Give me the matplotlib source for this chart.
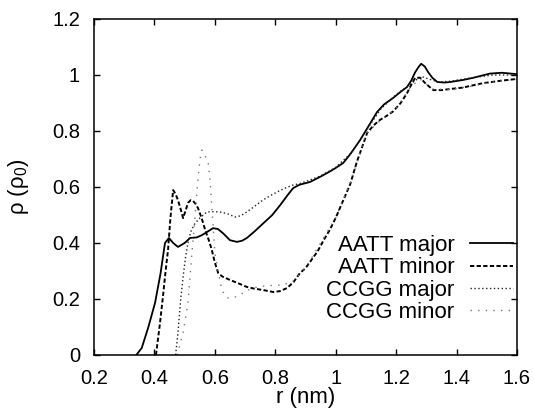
import matplotlib
matplotlib.use('Agg')
import matplotlib.pyplot as plt

plt.rcParams['font.family'] = ['Liberation Sans', 'DejaVu Sans']
plt.rcParams['mathtext.fontset'] = 'custom'
plt.rcParams['mathtext.rm'] = 'Liberation Sans'
plt.rcParams['mathtext.it'] = 'Liberation Sans'

# AATT major (solid)
aatt_major_r = [0.34, 0.358, 0.38, 0.402, 0.42, 0.435, 0.448, 0.462, 0.478, 0.50,
                0.518, 0.54, 0.557, 0.575, 0.594, 0.61, 0.627, 0.65, 0.673, 0.69,
                0.706, 0.73, 0.76, 0.79, 0.816, 0.84, 0.859, 0.88, 0.915, 0.948,
                0.98, 1.0, 1.025, 1.05, 1.081, 1.11, 1.137, 1.16, 1.19, 1.215,
                1.236, 1.25, 1.263, 1.275, 1.283, 1.295, 1.306, 1.32, 1.336, 1.36,
                1.379, 1.42, 1.455, 1.51, 1.55, 1.6]
aatt_major_rho = [0.0, 0.025, 0.10, 0.186, 0.29, 0.40, 0.418, 0.40, 0.386, 0.40,
                  0.418, 0.42, 0.428, 0.44, 0.453, 0.45, 0.435, 0.41, 0.404, 0.408,
                  0.418, 0.44, 0.47, 0.50, 0.535, 0.57, 0.596, 0.608, 0.618, 0.636,
                  0.655, 0.668, 0.686, 0.72, 0.768, 0.82, 0.868, 0.895, 0.918, 0.94,
                  0.957, 0.98, 1.01, 1.03, 1.04, 1.03, 1.01, 0.99, 0.975, 0.973,
                  0.975, 0.982, 0.99, 1.005, 1.008, 1.003]

# AATT minor (dashed)
aatt_minor_r = [0.405, 0.408, 0.418, 0.428, 0.437, 0.445, 0.453, 0.462, 0.47, 0.478,
                0.487, 0.495, 0.503, 0.511, 0.52, 0.528, 0.536, 0.544, 0.556, 0.568,
                0.58, 0.59, 0.60, 0.611, 0.625, 0.65, 0.68, 0.706, 0.73, 0.76,
                0.793, 0.815, 0.839, 0.86, 0.882, 0.9, 0.92, 0.94, 0.96, 0.98,
                1.0, 1.02, 1.048, 1.07, 1.104, 1.125, 1.147, 1.17, 1.19, 1.215,
                1.236, 1.25, 1.263, 1.28, 1.296, 1.31, 1.323, 1.35, 1.379, 1.42,
                1.488, 1.55, 1.6]
aatt_minor_rho = [0.0, 0.025, 0.11, 0.207, 0.30, 0.375, 0.49, 0.589, 0.575, 0.553,
                  0.52, 0.489, 0.515, 0.543, 0.553, 0.55, 0.54, 0.525, 0.49, 0.446,
                  0.41, 0.375, 0.33, 0.293, 0.28, 0.268, 0.255, 0.243, 0.237, 0.232,
                  0.225, 0.228, 0.239, 0.26, 0.293, 0.31, 0.34, 0.37, 0.41, 0.446,
                  0.49, 0.54, 0.61, 0.69, 0.793, 0.82, 0.84, 0.855, 0.87, 0.90,
                  0.935, 0.965, 0.99, 0.99, 0.971, 0.958, 0.946, 0.946, 0.95, 0.955,
                  0.971, 0.98, 0.986]

# CCGG major (dotted)
ccgg_major_r = [0.47, 0.478, 0.487, 0.495, 0.503, 0.511, 0.52, 0.534, 0.551, 0.574,
                0.6, 0.62, 0.64, 0.667, 0.685, 0.706, 0.73, 0.76, 0.785, 0.806,
                0.83, 0.859, 0.88, 0.915, 0.95, 1.0, 1.05, 1.1, 1.15, 1.2,
                1.25, 1.283, 1.31, 1.34, 1.38, 1.45, 1.52, 1.6]
ccgg_major_rho = [0.0, 0.08, 0.2, 0.28, 0.35, 0.40, 0.44, 0.47, 0.49, 0.511,
                  0.512, 0.51, 0.505, 0.493, 0.497, 0.511, 0.53, 0.554, 0.57, 0.582,
                  0.595, 0.607, 0.612, 0.625, 0.64, 0.67, 0.72, 0.80, 0.88, 0.93,
                  0.97, 0.995, 0.985, 0.975, 0.978, 0.99, 1.0, 1.0]

# CCGG minor (sparse dots)
ccgg_minor_r = [0.475, 0.495, 0.511, 0.524, 0.532, 0.538, 0.545, 0.551, 0.557, 0.565,
                0.578, 0.584, 0.59, 0.6, 0.611, 0.623, 0.64, 0.66, 0.683, 0.70,
                0.74, 0.78, 0.826, 0.86, 0.9, 0.95, 1.0, 1.05, 1.1, 1.15,
                1.2, 1.25, 1.28, 1.32, 1.38, 1.45, 1.52, 1.6]
ccgg_minor_rho = [0.0, 0.08, 0.186, 0.364, 0.46, 0.55, 0.64, 0.70, 0.732, 0.72,
                  0.685, 0.625, 0.53, 0.364, 0.30, 0.232, 0.204, 0.204, 0.214, 0.228,
                  0.243, 0.248, 0.25, 0.265, 0.31, 0.40, 0.49, 0.62, 0.79, 0.84,
                  0.88, 0.96, 0.985, 0.95, 0.948, 0.96, 0.975, 0.985]

labels = ['AATT major', 'AATT minor', 'CCGG major', 'CCGG minor']

fig = plt.figure(figsize=(5.34, 4.08), dpi=100)
ax = fig.add_axes([94 / 534, 1 - 355 / 408, 423 / 534, 336 / 408])

ax.plot(aatt_major_r, aatt_major_rho, color='black', lw=1.3, label=labels[0])
ax.plot(aatt_minor_r, aatt_minor_rho, color='black', lw=1.4,
        dashes=(2.2, 1.2), label=labels[1])
ax.plot(ccgg_major_r, ccgg_major_rho, color='#222222', lw=1.0,
        dashes=(1, 1.8), label=labels[2])
ax.plot(ccgg_minor_r, ccgg_minor_rho, color='#777777', lw=1.0,
        dashes=(1, 4.5), label=labels[3])

ax.set_xlim(0.2, 1.6)
ax.set_ylim(0, 1.2)
ax.set_xticks([0.2, 0.4, 0.6, 0.8, 1.0, 1.2, 1.4, 1.6])
ax.set_xticklabels(['0.2', '0.4', '0.6', '0.8', '1', '1.2', '1.4', '1.6'])
ax.set_yticks([0, 0.2, 0.4, 0.6, 0.8, 1.0, 1.2])
ax.set_yticklabels(['0', '0.2', '0.4', '0.6', '0.8', '1', '1.2'])
ax.tick_params(direction='in', top=True, right=True, length=4.5, width=1,
               labelsize=14.5, pad=10)
for s in ax.spines.values():
    s.set_linewidth(1.1)

ax.set_xlabel('r (nm)', fontsize=16)
ax.set_ylabel('ρ (ρ$_0$)', fontsize=16)
ax.xaxis.set_label_coords(0.5, -0.095)
ax.yaxis.set_label_coords(-0.15, 0.5)

ax.legend(loc='upper right', bbox_to_anchor=(0.9905, 0.357), frameon=False,
          markerfirst=False, fontsize=16, handlelength=1.95, handletextpad=0.68,
          labelspacing=0.06, borderpad=0, borderaxespad=0)

fig.savefig('out.png', dpi=100)
